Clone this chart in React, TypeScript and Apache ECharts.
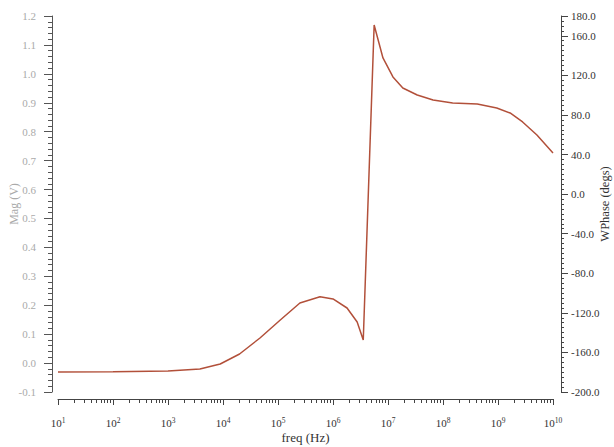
import React, { useEffect, useRef } from "react";
import * as echarts from "echarts";

const freqHz = [
  10, 100, 1000, 3800, 8900, 20000, 47000, 110000, 250000, 580000, 1000000,
  1800000, 2750000, 3550000, 5600000, 8100000, 12300000, 18600000, 34000000,
  66000000, 150000000, 420000000, 950000000, 1660000000, 2800000000,
  5100000000, 10000000000,
];
const phaseDeg = [
  -179.8, -179.6, -178.8, -176.7, -171.7, -161.6, -145.4, -127.2, -110.0,
  -103.7, -106.0, -115.1, -129.2, -147.4, 170.9, 137.6, 118.4, 107.2, 100.2,
  95.1, 92.1, 91.1, 87.0, 82.0, 72.9, 59.7, 41.5,
];

const magRange = { min: -0.1, max: 1.2, interval: 0.1 };
const phaseRange = { min: -200, max: 180, interval: 40 };
const freqRange = { min: 10, max: 1e10 };

const FONT = "Liberation Serif";
const CSS = `.phase-chart svg text, .phase-chart svg tspan { font-family: 'Liberation Serif', 'Times New Roman', serif !important; }`;

export default function App() {
  const ref = useRef<HTMLDivElement>(null);
  useEffect(() => {
    if (!ref.current) return;
    const chart = echarts.init(ref.current, undefined, { renderer: "svg" });
    const data = freqHz.map((f, i) => [f, phaseDeg[i]]);
    chart.setOption({
      animation: false,
      textStyle: { fontFamily: FONT },
      grid: {
        left: 58,
        right: 61,
        top: 16,
        bottom: 55,
        containLabel: false,
        outerBoundsMode: "none",
      },
      xAxis: {
        type: "log",
        logBase: 10,
        min: freqRange.min,
        max: freqRange.max,
        position: "bottom",
        offset: 7,
        name: "freq (Hz)",
        nameLocation: "middle",
        nameGap: 32,
        nameMoveOverlap: false,
        nameTextStyle: { fontFamily: FONT, fontSize: 13, color: "#333" },
        axisLine: { show: true, onZero: false, lineStyle: { color: "#444", width: 1 } },
        axisTick: { show: true, inside: false, length: 6, lineStyle: { color: "#444" } },
        minorTick: { show: true, splitNumber: 9, length: 4, lineStyle: { color: "#444" } },
        splitLine: { show: false },
        minorSplitLine: { show: false },
        axisLabel: {
          margin: 17,
          color: "#333",
          fontFamily: FONT,
          fontSize: 11,
          formatter: (v: number) => {
            const e = Math.round(Math.log10(v));
            return "{b|10}{s|" + e + "}";
          },
          rich: {
            b: { fontFamily: FONT, fontSize: 11, color: "#333" },
            s: { fontFamily: FONT, fontSize: 7.5, color: "#333", verticalAlign: "top", padding: [0, 0, 6, 0] },
          },
        },
      },
      yAxis: [
        {
          type: "value",
          position: "left",
          offset: 6,
          min: magRange.min,
          max: magRange.max,
          interval: magRange.interval,
          name: "Mag (V)",
          nameLocation: "middle",
          nameGap: 32,
          nameMoveOverlap: false,
          nameTextStyle: { fontFamily: FONT, fontSize: 12, color: "#aaa" },
          axisLine: { show: true, onZero: false, lineStyle: { color: "#555", width: 1 } },
          axisTick: { show: true, inside: false, length: 8, lineStyle: { color: "#555" } },
          minorTick: { show: true, splitNumber: 5, length: 4, lineStyle: { color: "#555" } },
          splitLine: { show: false },
          axisLabel: {
            margin: 16,
            color: "#aaa",
            fontFamily: FONT,
            fontSize: 11,
            formatter: (v: number) => v.toFixed(1),
          },
        },
        {
          type: "value",
          position: "right",
          offset: 8,
          min: phaseRange.min,
          max: phaseRange.max,
          interval: phaseRange.interval,
          name: "WPhase (degs)",
          nameLocation: "middle",
          nameGap: 37,
          nameMoveOverlap: false,
          nameTextStyle: { fontFamily: FONT, fontSize: 12.5, color: "#333" },
          axisLine: { show: true, onZero: false, lineStyle: { color: "#444", width: 1 } },
          axisTick: { show: true, inside: false, length: 7, lineStyle: { color: "#444" } },
          minorTick: { show: true, splitNumber: 8, length: 3, lineStyle: { color: "#444" } },
          splitLine: { show: false },
          axisLabel: {
            margin: 10,
            color: "#333",
            fontFamily: FONT,
            fontSize: 11,
            showMaxLabel: true,
            formatter: (v: number) => v.toFixed(1),
          },
        },
      ],
      series: [
        {
          type: "line",
          name: "WPhase",
          yAxisIndex: 1,
          data,
          showSymbol: false,
          symbol: "none",
          lineStyle: { color: "#b2503a", width: 1.5 },
        },
      ],
    });
    return () => chart.dispose();
  }, []);
  return (
    <>
      <style>{CSS}</style>
      <div
        ref={ref}
        className="phase-chart"
        style={{ position: "absolute", left: 0, top: 0, width: 614, height: 447 }}
      />
    </>
  );
}
